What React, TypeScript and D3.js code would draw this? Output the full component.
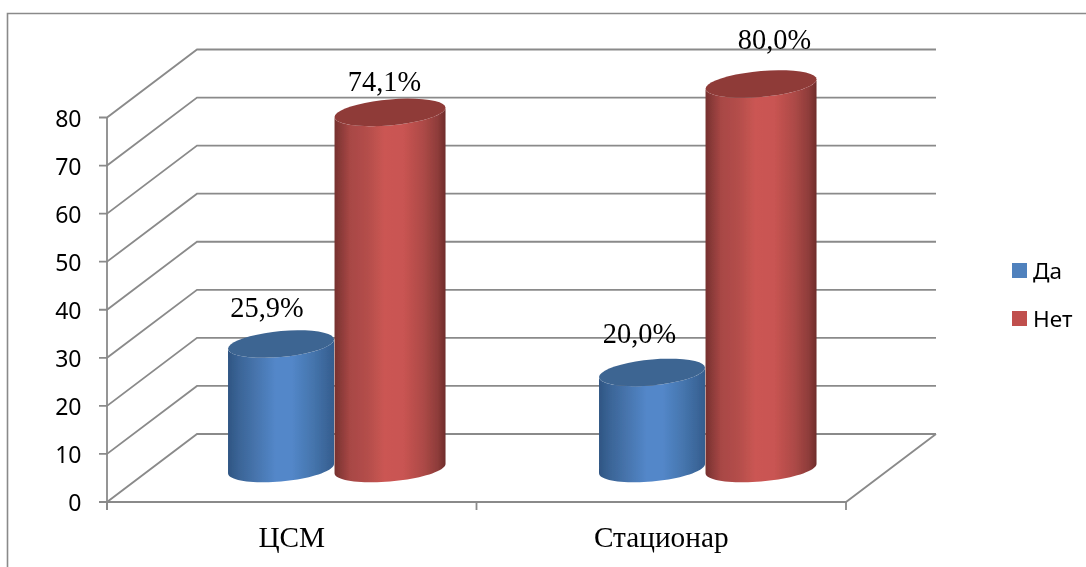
import React from "react";
import * as d3 from "d3";

const categories = ["ЦСМ", "Стационар"];
const seriesNames = ["Да", "Нет"];
const daValues = [25.9, 20.0];
const netValues = [74.1, 80.0];
const daLabels = ["25,9%", "20,0%"];
const netLabels = ["74,1%", "80,0%"];
const yTicks = [0, 10, 20, 30, 40, 50, 60, 70, 80];

const WIDTH = 1086;
const HEIGHT = 567;
const GRID = "#8a8a8a";

const depthX = 90;
const depthY = -68;
const midDepth = 0.492;

const xBand = d3.scaleBand<string>().domain(categories).range([107, 846]).paddingInner(0).paddingOuter(0);
const y = d3.scaleLinear().domain([0, 80]).range([502, 117.5]);
const seriesCenter = d3.scaleOrdinal<string, number>().domain(seriesNames).range([-55, 54]);
const seriesHalfWidth = d3.scaleOrdinal<string, number>().domain(seriesNames).range([53, 55.5]);
const categoryNudge = d3.scaleOrdinal<string, number>().domain(categories).range([0, 1.5]);

const TILT = 4.7;
const CAP_H = 13.8;

// Tilted ellipse outline between two parameter angles
function ellipsePoints(cx: number, cy: number, w: number, from: number, to: number): [number, number][] {
  const b = Math.sqrt(CAP_H * CAP_H - TILT * TILT);
  return d3.range(41).map((i) => {
    const t = from + ((to - from) * i) / 40;
    return [cx + w * Math.cos(t), cy + b * Math.sin(t) - TILT * Math.cos(t)] as [number, number];
  });
}
const line = d3.line<[number, number]>();

const barCenter = (cat: string, name: string) =>
  xBand(cat)! + xBand.bandwidth() / 2 + seriesCenter(name) + depthX * midDepth + categoryNudge(cat);

function Cylinder({ cat, name, value, gradient, cap }: { cat: string; name: string; value: number; gradient: string; cap: string }) {
  const cx = barCenter(cat, name);
  const w = seriesHalfWidth(name);
  const yBase = y(0) + depthY * midDepth;
  const yTop = y(value) + depthY * midDepth;
  const bottom = ellipsePoints(cx, yBase, w, 0, Math.PI);
  const topBack = ellipsePoints(cx, yTop, w, Math.PI, 0);
  const body = line([...topBack, ...bottom])! + "Z";
  const capPath = line(ellipsePoints(cx, yTop, w, 0, Math.PI * 2))! + "Z";
  return (
    <g>
      <path d={body} fill={`url(#${gradient})`} />
      <path d={capPath} fill={cap} />
    </g>
  );
}

const redStops: [number, string][] = [
  [0, "#76302e"], [0.06, "#8c3b39"], [0.14, "#a84745"], [0.3, "#b44e4b"], [0.45, "#cb5653"], [0.62, "#c95452"], [0.8, "#ad4a47"], [0.93, "#8e3c3a"], [1, "#6f2d2b"],
];
const blueStops: [number, string][] = [
  [0, "#2f5583"], [0.1, "#3a6496"], [0.25, "#4673ab"], [0.45, "#5387c9"], [0.6, "#5387c9"], [0.8, "#4575ad"], [1, "#355d8e"],
];

const serif = "'Liberation Serif', serif";
const sans = "'Noto Sans', sans-serif";

const labelNudge = {
  Да: [[-14, -27.5], [-12.5, -29]],
  Нет: [[-5.5, -21.5], [13.5, -35]],
} as Record<string, number[][]>;

export default function App() {
  const left = 107, right = 846;
  const series = [
    { name: "Да", values: daValues, labels: daLabels, gradient: "gBlue", cap: "#3e6592", swatch: "#4f81bd" },
    { name: "Нет", values: netValues, labels: netLabels, gradient: "gRed", cap: "#8f3a38", swatch: "#c0504d" },
  ];
  const xTicks = [left, ...categories.map((c) => xBand(c)! + xBand.bandwidth())];
  return (
    <svg width={WIDTH} height={HEIGHT} style={{ position: "fixed", left: 0, top: 0, background: "#fff" }}>
      <defs>
        <linearGradient id="gRed" x1="0" x2="1" y1="0" y2="0">
          {redStops.map(([o, c]) => <stop key={o} offset={o} stopColor={c} />)}
        </linearGradient>
        <linearGradient id="gBlue" x1="0" x2="1" y1="0" y2="0">
          {blueStops.map(([o, c]) => <stop key={o} offset={o} stopColor={c} />)}
        </linearGradient>
        <filter id="soft" filterUnits="userSpaceOnUse" x={0} y={0} width={WIDTH} height={HEIGHT}>
          <feGaussianBlur stdDeviation={0.45} />
        </filter>
      </defs>

      <g filter="url(#soft)">
        {/* frame */}
        <path d={`M7.5 ${HEIGHT + 4}V13.5H${WIDTH + 4}`} fill="none" stroke={GRID} strokeWidth={1.6} />

        {/* walls */}
        <g fill="none" stroke={GRID} strokeWidth={1.8}>
          {yTicks.map((t) => (
            <path key={t} d={`M${left - 8} ${y(t)}H${left}L${left + depthX} ${y(t) + depthY}H${right + depthX}`} />
          ))}
          <path d={`M${left} ${y(80)}V${y(0) + 8}`} />
          <path d={`M${left} ${y(0)}H${right}L${right + depthX} ${y(0) + depthY}`} />
          {xTicks.map((x) => <path key={x} d={`M${x} ${y(0)}V${y(0) + 8}`} />)}
        </g>

        {/* y labels */}
        {yTicks.map((t) => (
          <text key={t} x={81.5} y={y(t) + 9.3} textAnchor="end" fontFamily={sans} fontSize={23} fill="#000">{t}</text>
        ))}

        {/* cylinders */}
        {categories.map((c, i) => (
          <g key={c}>
            {series.map((s) => (
              <Cylinder key={s.name} cat={c} name={s.name} value={s.values[i]} gradient={s.gradient} cap={s.cap} />
            ))}
          </g>
        ))}

        {/* data labels */}
        {categories.map((c, i) =>
          series.map((s) => {
            const cx = barCenter(c, s.name);
            const cy = y(s.values[i]) + depthY * midDepth;
            const [nx, ny] = labelNudge[s.name][i];
            return (
              <text key={c + s.name} x={cx + nx} y={cy + ny} textAnchor="middle" fontFamily={serif} fontSize={28.4} fill="#000">
                {s.labels[i]}
              </text>
            );
          })
        )}

        {/* category labels */}
        {categories.map((c) => (
          <text key={c} x={xBand(c)! + xBand.bandwidth() / 2} y={547} textAnchor="middle" fontFamily={serif} fontSize={29.3} fill="#000">{c}</text>
        ))}

        {/* legend */}
        {series.map((s, i) => (
          <g key={s.name} transform={`translate(1012 ${263 + i * 48})`}>
            <rect width={15} height={15} fill={s.swatch} />
            <text x={21} y={15.5} fontFamily={sans} fontSize={22.5} fill="#000">{s.name}</text>
          </g>
        ))}
      </g>
    </svg>
  );
}
